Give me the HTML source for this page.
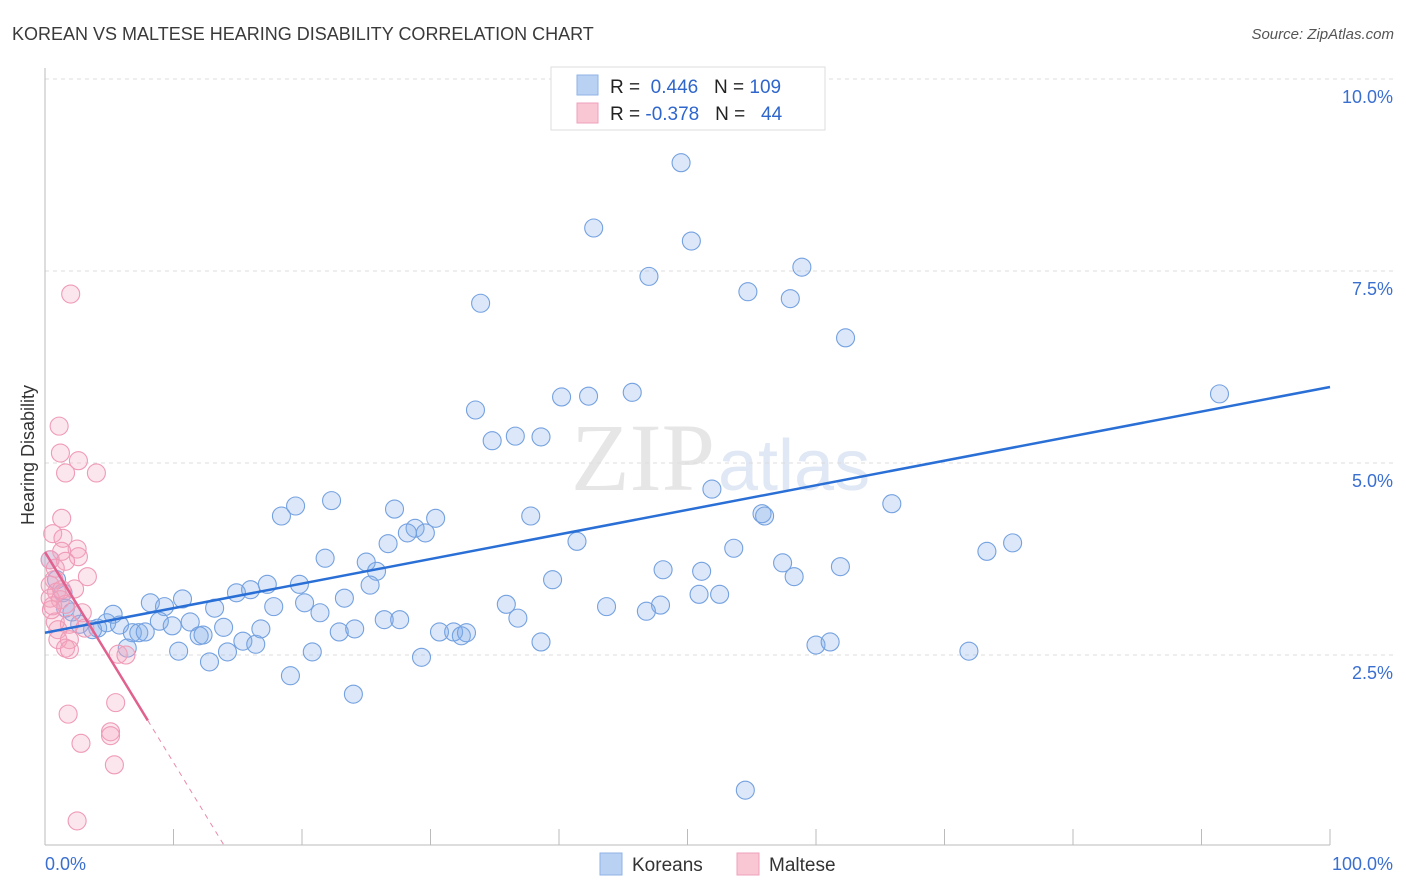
<!DOCTYPE html>
<html><head><meta charset="utf-8"><style>
body{margin:0;background:#fff;font-family:"Liberation Sans",sans-serif;}
svg{display:block}
</style></head><body>
<svg width="1406" height="892" xmlns="http://www.w3.org/2000/svg">
<text x="12" y="40" font-size="18" fill="#3a3a3a">KOREAN VS MALTESE HEARING DISABILITY CORRELATION CHART</text>
<text x="1394" y="39" font-size="15" fill="#555" font-style="italic" text-anchor="end">Source: ZipAtlas.com</text>
<text x="715" y="490" font-size="96" fill="#e6e6e6" font-family="Liberation Serif,serif" text-anchor="end">ZIP</text>
<text x="718" y="490" font-size="72" fill="#dfe8f4">atlas</text>
<g id="grid"></g>
<g id="axes"></g>
<g id="marks"></g>
<text transform="translate(34,455) rotate(-90)" font-size="18" fill="#333" text-anchor="middle">Hearing Disability</text>
<text x="45" y="870" font-size="18" fill="#3a6fd0">0.0%</text>
<text x="1393" y="870" font-size="18" fill="#3a6fd0" text-anchor="end">100.0%</text>
<g>
<rect x="551" y="67" width="274" height="63" fill="#fff" stroke="#ddd"/>
<rect x="577" y="75" width="21" height="20" fill="#b9d2f3" stroke="#8fb2e6"/>
<rect x="577" y="103" width="21" height="20" fill="#f9c6d4" stroke="#eea0b8"/>
<text x="610" y="93" font-size="19" fill="#222">R = <tspan fill="#2f66cc">&#160;0.446</tspan>&#160;&#160;&#160;N = <tspan fill="#2f66cc">109</tspan></text>
<text x="610" y="120" font-size="19" fill="#222">R = <tspan fill="#2f66cc">-0.378</tspan>&#160;&#160;&#160;N = <tspan fill="#2f66cc">&#160;&#160;44</tspan></text>
</g>
<g><rect x="600" y="853" width="22" height="22" fill="#b9d2f3" stroke="#8fb2e6"/><text x="632" y="871" font-size="19" fill="#333">Koreans</text></g>
<g><rect x="737" y="853" width="22" height="22" fill="#f9c6d4" stroke="#eea0b8"/><text x="769" y="871" font-size="19" fill="#333">Maltese</text></g>
</svg>
<script>
const yTicks=[2.5,5.0,7.5,10.0];
const yTickLabels=["2.5%","5.0%","7.5%","10.0%"];
const koreanX=[49.5,42.7,50.3,47.0,58.9,54.7,58.0,33.9,62.3,91.4,45.7,40.2,42.3,33.5,34.8,36.6,38.6,51.9,22.3,19.5,18.4,27.2,30.4,37.8,55.8,56.0,65.9,28.8,28.2,29.6,26.7,41.4,53.6,21.8,25.0,25.8,73.3,75.3,57.4,61.9,48.1,51.1,58.3,39.5,17.3,19.8,14.9,16.0,10.7,8.2,9.3,13.2,17.8,20.2,23.3,25.3,35.9,43.7,47.9,46.8,50.9,52.5,21.4,26.4,27.6,36.8,5.3,8.9,11.3,9.9,13.9,16.8,4.8,4.1,3.7,2.7,5.8,6.8,7.3,7.8,12.0,12.3,22.9,24.1,30.7,31.8,32.4,32.8,38.6,15.4,16.4,6.4,10.4,14.2,20.8,12.8,29.3,60.0,61.1,71.9,19.1,24.0,54.5,0.4,0.9,1.4,1.6,2.1];
const koreanY=[8.91,8.06,7.89,7.43,7.55,7.23,7.14,7.08,6.63,5.90,5.92,5.86,5.87,5.69,5.29,5.35,5.34,4.66,4.51,4.44,4.31,4.40,4.28,4.31,4.34,4.31,4.47,4.15,4.09,4.09,3.95,3.98,3.89,3.76,3.71,3.59,3.85,3.96,3.70,3.65,3.61,3.59,3.52,3.48,3.42,3.42,3.31,3.35,3.23,3.18,3.13,3.11,3.13,3.18,3.24,3.41,3.16,3.13,3.15,3.07,3.29,3.29,3.05,2.96,2.96,2.98,3.03,2.94,2.93,2.88,2.86,2.84,2.92,2.85,2.83,2.90,2.89,2.79,2.79,2.80,2.75,2.76,2.80,2.84,2.80,2.80,2.75,2.79,2.67,2.68,2.64,2.59,2.55,2.54,2.54,2.41,2.47,2.63,2.67,2.55,2.23,1.99,0.74,3.74,3.48,3.31,3.11,3.06];
const malteseX=[2.0,1.1,1.2,2.6,1.6,4.0,1.3,0.6,1.4,2.5,1.3,2.6,0.4,1.6,3.3,0.7,0.4,2.3,0.9,0.4,1.2,1.6,2.9,0.8,1.9,1.0,3.1,1.0,1.9,1.6,1.9,5.7,6.3,5.5,1.8,5.1,5.1,2.8,5.4,2.5,0.5,0.6,1.3,0.8];
const malteseY=[7.20,5.48,5.13,5.03,4.87,4.87,4.28,4.08,4.02,3.88,3.85,3.78,3.74,3.72,3.52,3.48,3.41,3.36,3.32,3.24,3.22,3.16,3.05,2.93,2.90,2.83,2.85,2.70,2.70,2.59,2.57,2.51,2.50,1.88,1.73,1.50,1.45,1.35,1.07,0.34,3.09,3.14,3.35,3.63];
const koreanTrend=[2.79,5.99];
const malteseTrend=[3.84,-0.274];
const xs=v=>45+v*12.85, ys=v=>847-v*76.8;
const NS="http://www.w3.org/2000/svg";
function mk(t,a,p){const e=document.createElementNS(NS,t);for(const k in a)e.setAttribute(k,a[k]);p.appendChild(e);return e;}
const grid=document.getElementById('grid'),axes=document.getElementById('axes'),marks=document.getElementById('marks');
yTicks.forEach((t,i)=>{
 const l=mk('line',{x1:45,x2:1393,y1:ys(t),y2:ys(t),stroke:'#ddd','stroke-dasharray':'4,4'},grid);
 
 
 const tx=mk('text',{x:1393,y:ys(t)+24,'font-size':18,fill:'#3a6fd0','text-anchor':'end'},grid);
 tx.textContent=yTickLabels[i];
 
 
});
const ya=mk('line',{x1:45,x2:45,y1:68,y2:845,stroke:'#bbb'},axes);


const xa=mk('line',{x1:45,x2:1330,y1:845,y2:845,stroke:'#bbb'},axes);


for(let i=1;i<=10;i++){
 const tk=mk('line',{x1:xs(i*10),x2:xs(i*10),y1:829,y2:845,stroke:'#bbb'},axes);
 
 
}
koreanX.forEach((x,i)=>{
 const c=mk('circle',{cx:xs(x),cy:ys(koreanY[i]),r:9,fill:'rgba(130,172,232,0.28)',stroke:'#74a1e0','stroke-width':1.1},marks);
 
 
});
malteseX.forEach((x,i)=>{
 const c=mk('circle',{cx:xs(x),cy:ys(malteseY[i]),r:9,fill:'rgba(245,165,190,0.28)',stroke:'#ef9ab6','stroke-width':1.1},marks);
 
 
});
const kl=mk('line',{x1:xs(0),y1:ys(koreanTrend[0]),x2:xs(100),y2:ys(koreanTrend[1]),stroke:'#2a6fd6','stroke-width':2.5},marks);


const pm=v=>malteseTrend[0]+malteseTrend[1]*v;
const ml=mk('line',{x1:xs(0),y1:ys(pm(0)),x2:xs(8),y2:ys(pm(8)),stroke:'#e0608e','stroke-width':2.5},marks);


const x0=-malteseTrend[0]/malteseTrend[1];
const md=mk('line',{x1:xs(8),y1:ys(pm(8)),x2:xs(x0),y2:ys(0),stroke:'#e98aab','stroke-width':1,'stroke-dasharray':'5,5'},marks);


</script>
</body></html>
